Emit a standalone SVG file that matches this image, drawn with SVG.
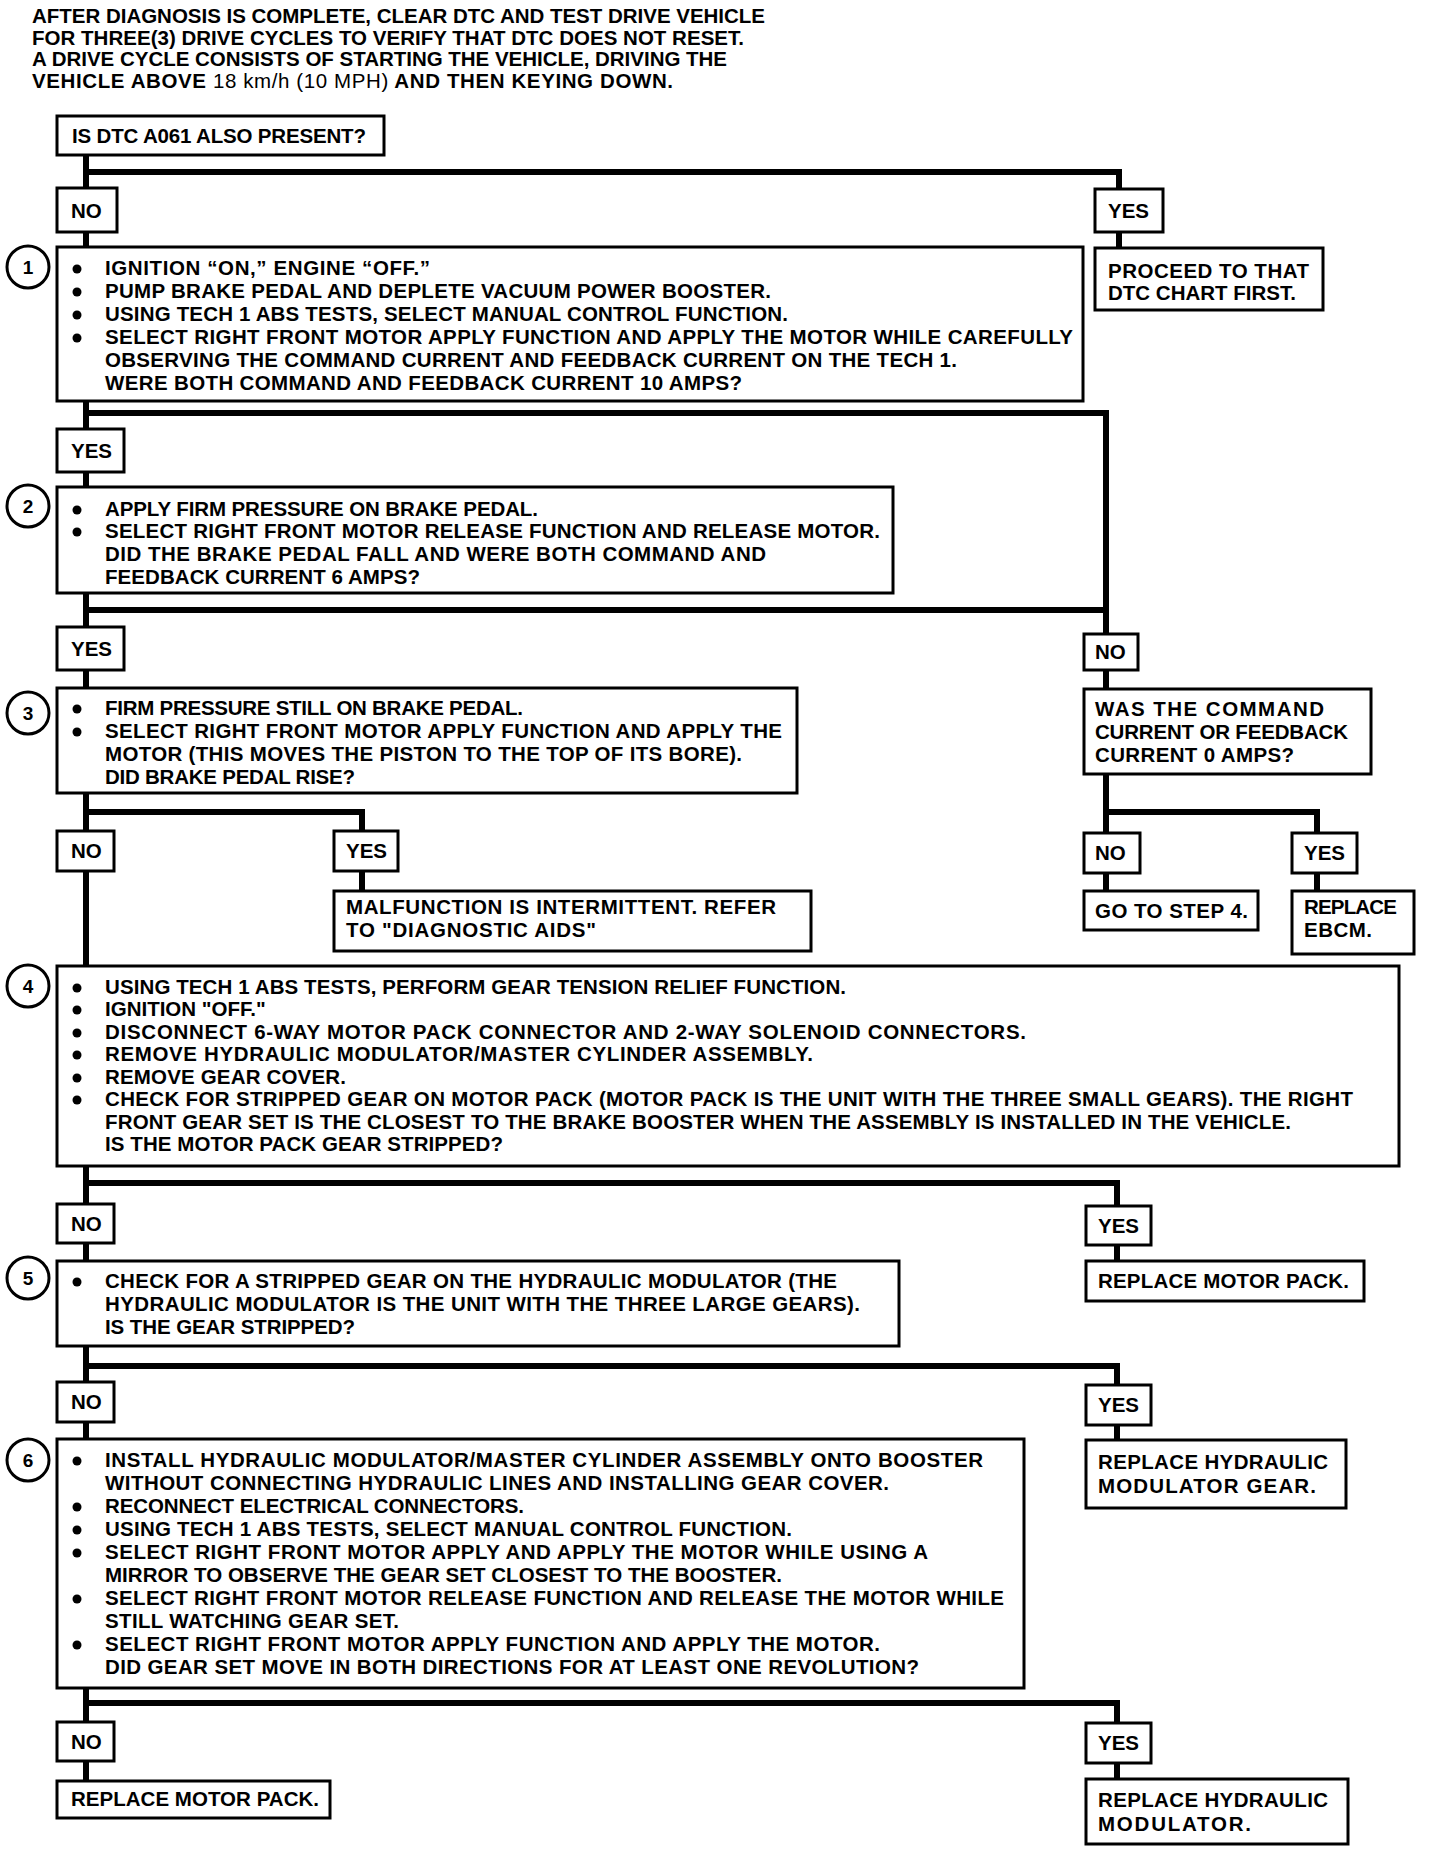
<svg xmlns="http://www.w3.org/2000/svg" width="1440" height="1850" viewBox="0 0 1440 1850">
<style>
.box{fill:#fff;stroke:#000;stroke-width:3}
.ln{stroke:#000;stroke-width:6;fill:none;stroke-linecap:square}
.t{font-family:"Liberation Sans",Arial,sans-serif;font-weight:bold;font-size:20.5px;fill:#000}
.n{font-family:"Liberation Sans",Arial,sans-serif;font-weight:bold;font-size:19px;fill:#000;text-anchor:middle}
.c{fill:#fff;stroke:#000;stroke-width:3}
.light{font-weight:normal}
</style>
<rect width="1440" height="1850" fill="#fff"/>
<defs>
<circle id="b" r="4.5" fill="#000"/>
</defs>

<g id="header">
<text class="t" x="32" y="23" textLength="733">AFTER DIAGNOSIS IS COMPLETE, CLEAR DTC AND TEST DRIVE VEHICLE</text>
<text class="t" x="32" y="45" textLength="712">FOR THREE(3) DRIVE CYCLES TO VERIFY THAT DTC DOES NOT RESET.</text>
<text class="t" x="32" y="66" textLength="695">A DRIVE CYCLE CONSISTS OF STARTING THE VEHICLE, DRIVING THE</text>
<text class="t" x="32" y="88" textLength="641">VEHICLE ABOVE <tspan class="light">18 km/h (10 MPH)</tspan> AND THEN KEYING DOWN.</text>
</g>

<g id="connectors">
<path class="ln" d="M86 155 V247 M86 172 H1119 V248"/>
<path class="ln" d="M86 401 V487 M86 413 H1106 V689"/>
<path class="ln" d="M86 593 V688 M86 610 H1106"/>
<path class="ln" d="M1106 774 V891 M1106 812 H1317 V891"/>
<path class="ln" d="M86 793 V966 M86 812 H362 V891"/>
<path class="ln" d="M86 1166 V1261 M86 1183 H1117 V1261"/>
<path class="ln" d="M86 1346 V1439 M86 1366 H1117 V1440"/>
<path class="ln" d="M86 1688 V1781 M86 1703 H1117 V1779"/>
</g>

<g id="q0">
<rect class="box" x="57" y="116" width="327" height="39"/>
<text class="t" x="72" y="143" textLength="294">IS DTC A061 ALSO PRESENT?</text>
</g>
<g id="no0">
<rect class="box" x="57" y="188" width="60" height="44"/>
<text class="t" x="71" y="218">NO</text>
</g>
<g id="yes0">
<rect class="box" x="1095" y="189" width="68" height="43"/>
<text class="t" x="1108" y="218">YES</text>
</g>
<g id="proceed">
<rect class="box" x="1095" y="248" width="228" height="62"/>
<text class="t" x="1108" y="278" textLength="201">PROCEED TO THAT</text>
<text class="t" x="1108" y="300" textLength="188">DTC CHART FIRST.</text>
</g>

<g id="step1">
<rect class="box" x="57" y="247" width="1026" height="154"/>
<circle class="c" cx="28" cy="267" r="21"/><text class="n" x="28" y="274">1</text>
<use href="#b" x="77" y="269"/><use href="#b" x="77" y="292"/><use href="#b" x="77" y="315"/><use href="#b" x="77" y="338"/>
<text class="t" x="105" y="275" textLength="325">IGNITION “ON,” ENGINE “OFF.”</text>
<text class="t" x="105" y="298" textLength="666">PUMP BRAKE PEDAL AND DEPLETE VACUUM POWER BOOSTER.</text>
<text class="t" x="105" y="321" textLength="683">USING TECH 1 ABS TESTS, SELECT MANUAL CONTROL FUNCTION.</text>
<text class="t" x="105" y="344" textLength="968">SELECT RIGHT FRONT MOTOR APPLY FUNCTION AND APPLY THE MOTOR WHILE CAREFULLY</text>
<text class="t" x="105" y="367" textLength="852">OBSERVING THE COMMAND CURRENT AND FEEDBACK CURRENT ON THE TECH 1.</text>
<text class="t" x="105" y="390" textLength="637">WERE BOTH COMMAND AND FEEDBACK CURRENT 10 AMPS?</text>
</g>

<g id="yes1">
<rect class="box" x="57" y="429" width="67" height="43"/>
<text class="t" x="71" y="458">YES</text>
</g>

<g id="step2">
<rect class="box" x="57" y="487" width="836" height="106"/>
<circle class="c" cx="28" cy="506" r="21"/><text class="n" x="28" y="513">2</text>
<use href="#b" x="77" y="510"/><use href="#b" x="77" y="532"/>
<text class="t" x="105" y="516" textLength="433">APPLY FIRM PRESSURE ON BRAKE PEDAL.</text>
<text class="t" x="105" y="538" textLength="775">SELECT RIGHT FRONT MOTOR RELEASE FUNCTION AND RELEASE MOTOR.</text>
<text class="t" x="105" y="561" textLength="661">DID THE BRAKE PEDAL FALL AND WERE BOTH COMMAND AND</text>
<text class="t" x="105" y="584" textLength="315">FEEDBACK CURRENT 6 AMPS?</text>
</g>

<g id="yes2">
<rect class="box" x="57" y="627" width="67" height="43"/>
<text class="t" x="71" y="656">YES</text>
</g>
<g id="no2">
<rect class="box" x="1084" y="634" width="54" height="36"/>
<text class="t" x="1095" y="659">NO</text>
</g>
<g id="was">
<rect class="box" x="1084" y="689" width="287" height="85"/>
<text class="t" x="1095" y="716" textLength="229">WAS THE COMMAND</text>
<text class="t" x="1095" y="739" textLength="253">CURRENT OR FEEDBACK</text>
<text class="t" x="1095" y="762" textLength="199">CURRENT 0 AMPS?</text>
</g>

<g id="step3">
<rect class="box" x="57" y="688" width="740" height="105"/>
<circle class="c" cx="28" cy="713" r="21"/><text class="n" x="28" y="720">3</text>
<use href="#b" x="77" y="709"/><use href="#b" x="77" y="732"/>
<text class="t" x="105" y="715" textLength="418">FIRM PRESSURE STILL ON BRAKE PEDAL.</text>
<text class="t" x="105" y="738" textLength="677">SELECT RIGHT FRONT MOTOR APPLY FUNCTION AND APPLY THE</text>
<text class="t" x="105" y="761" textLength="637">MOTOR (THIS MOVES THE PISTON TO THE TOP OF ITS BORE).</text>
<text class="t" x="105" y="784" textLength="250">DID BRAKE PEDAL RISE?</text>
</g>

<g id="no3">
<rect class="box" x="57" y="831" width="57" height="40"/>
<text class="t" x="71" y="858">NO</text>
</g>
<g id="yes3">
<rect class="box" x="334" y="831" width="64" height="40"/>
<text class="t" x="346" y="858">YES</text>
</g>
<g id="malfunction">
<rect class="box" x="334" y="891" width="477" height="60"/>
<text class="t" x="346" y="914" textLength="430">MALFUNCTION IS INTERMITTENT.  REFER</text>
<text class="t" x="346" y="937" textLength="250">TO "DIAGNOSTIC AIDS"</text>
</g>
<g id="no4">
<rect class="box" x="1084" y="833" width="56" height="40"/>
<text class="t" x="1095" y="860">NO</text>
</g>
<g id="yes4">
<rect class="box" x="1292" y="833" width="65" height="40"/>
<text class="t" x="1304" y="860">YES</text>
</g>
<g id="goto4">
<rect class="box" x="1084" y="891" width="174" height="39"/>
<text class="t" x="1095" y="918" textLength="153">GO TO STEP 4.</text>
</g>
<g id="ebcm">
<rect class="box" x="1292" y="891" width="122" height="63"/>
<text class="t" x="1304" y="914" textLength="93">REPLACE</text>
<text class="t" x="1304" y="937" textLength="68">EBCM.</text>
</g>

<g id="step4">
<rect class="box" x="57" y="966" width="1342" height="200"/>
<circle class="c" cx="28" cy="986" r="21"/><text class="n" x="28" y="993">4</text>
<use href="#b" x="77" y="988"/><use href="#b" x="77" y="1010"/><use href="#b" x="77" y="1033"/><use href="#b" x="77" y="1055"/><use href="#b" x="77" y="1078"/><use href="#b" x="77" y="1100"/>
<text class="t" x="105" y="994" textLength="741">USING TECH 1 ABS TESTS, PERFORM GEAR TENSION RELIEF FUNCTION.</text>
<text class="t" x="105" y="1016">IGNITION "OFF."</text>
<text class="t" x="105" y="1039" textLength="921">DISCONNECT 6-WAY MOTOR PACK CONNECTOR AND 2-WAY SOLENOID CONNECTORS.</text>
<text class="t" x="105" y="1061" textLength="708">REMOVE HYDRAULIC MODULATOR/MASTER CYLINDER ASSEMBLY.</text>
<text class="t" x="105" y="1084" textLength="241">REMOVE GEAR COVER.</text>
<text class="t" x="105" y="1106" textLength="1248">CHECK FOR STRIPPED GEAR ON MOTOR PACK (MOTOR PACK IS THE UNIT WITH THE THREE SMALL GEARS).  THE RIGHT</text>
<text class="t" x="105" y="1129" textLength="1186">FRONT GEAR SET IS THE CLOSEST TO THE BRAKE BOOSTER WHEN THE ASSEMBLY IS INSTALLED IN THE VEHICLE.</text>
<text class="t" x="105" y="1151" textLength="398">IS THE MOTOR PACK GEAR STRIPPED?</text>
</g>

<g id="no5">
<rect class="box" x="57" y="1204" width="57" height="39"/>
<text class="t" x="71" y="1231">NO</text>
</g>
<g id="yes5">
<rect class="box" x="1086" y="1206" width="65" height="39"/>
<text class="t" x="1098" y="1233">YES</text>
</g>
<g id="motorpack1">
<rect class="box" x="1086" y="1261" width="278" height="40"/>
<text class="t" x="1098" y="1288" textLength="251">REPLACE MOTOR PACK.</text>
</g>

<g id="step5">
<rect class="box" x="57" y="1261" width="842" height="85"/>
<circle class="c" cx="28" cy="1278" r="21"/><text class="n" x="28" y="1285">5</text>
<use href="#b" x="77" y="1282"/>
<text class="t" x="105" y="1288" textLength="732">CHECK FOR A STRIPPED GEAR ON THE HYDRAULIC MODULATOR (THE</text>
<text class="t" x="105" y="1311" textLength="755">HYDRAULIC MODULATOR IS THE UNIT WITH THE THREE LARGE GEARS).</text>
<text class="t" x="105" y="1334" textLength="250">IS THE GEAR STRIPPED?</text>
</g>

<g id="no6">
<rect class="box" x="57" y="1382" width="57" height="40"/>
<text class="t" x="71" y="1409">NO</text>
</g>
<g id="yes6">
<rect class="box" x="1086" y="1385" width="65" height="40"/>
<text class="t" x="1098" y="1412">YES</text>
</g>
<g id="modgear">
<rect class="box" x="1086" y="1440" width="260" height="68"/>
<text class="t" x="1098" y="1469" textLength="230">REPLACE HYDRAULIC</text>
<text class="t" x="1098" y="1493" textLength="218">MODULATOR GEAR.</text>
</g>

<g id="step6">
<rect class="box" x="57" y="1439" width="967" height="249"/>
<circle class="c" cx="28" cy="1460" r="21"/><text class="n" x="28" y="1467">6</text>
<use href="#b" x="77" y="1461"/><use href="#b" x="77" y="1507"/><use href="#b" x="77" y="1530"/><use href="#b" x="77" y="1553"/><use href="#b" x="77" y="1599"/><use href="#b" x="77" y="1645"/>
<text class="t" x="105" y="1467" textLength="878">INSTALL HYDRAULIC MODULATOR/MASTER CYLINDER ASSEMBLY ONTO BOOSTER</text>
<text class="t" x="105" y="1490" textLength="784">WITHOUT CONNECTING HYDRAULIC LINES AND INSTALLING GEAR COVER.</text>
<text class="t" x="105" y="1513" textLength="419">RECONNECT ELECTRICAL CONNECTORS.</text>
<text class="t" x="105" y="1536" textLength="687">USING TECH 1 ABS TESTS, SELECT MANUAL CONTROL FUNCTION.</text>
<text class="t" x="105" y="1559" textLength="823">SELECT RIGHT FRONT MOTOR APPLY AND APPLY THE MOTOR WHILE USING A</text>
<text class="t" x="105" y="1582" textLength="677">MIRROR TO OBSERVE THE GEAR SET CLOSEST TO THE BOOSTER.</text>
<text class="t" x="105" y="1605" textLength="899">SELECT RIGHT FRONT MOTOR  RELEASE FUNCTION AND RELEASE THE MOTOR WHILE</text>
<text class="t" x="105" y="1628" textLength="294">STILL WATCHING GEAR SET.</text>
<text class="t" x="105" y="1651" textLength="775">SELECT RIGHT FRONT MOTOR APPLY FUNCTION AND APPLY THE MOTOR.</text>
<text class="t" x="105" y="1674" textLength="814">DID GEAR SET MOVE IN BOTH DIRECTIONS FOR AT LEAST ONE REVOLUTION?</text>
</g>

<g id="no7">
<rect class="box" x="57" y="1722" width="57" height="39"/>
<text class="t" x="71" y="1749">NO</text>
</g>
<g id="yes7">
<rect class="box" x="1086" y="1723" width="65" height="40"/>
<text class="t" x="1098" y="1750">YES</text>
</g>
<g id="motorpack2">
<rect class="box" x="57" y="1781" width="273" height="37"/>
<text class="t" x="71" y="1806" textLength="248">REPLACE MOTOR PACK.</text>
</g>
<g id="modulator">
<rect class="box" x="1086" y="1779" width="262" height="65"/>
<text class="t" x="1098" y="1807" textLength="230">REPLACE HYDRAULIC</text>
<text class="t" x="1098" y="1831" textLength="153">MODULATOR.</text>
</g>
</svg>
